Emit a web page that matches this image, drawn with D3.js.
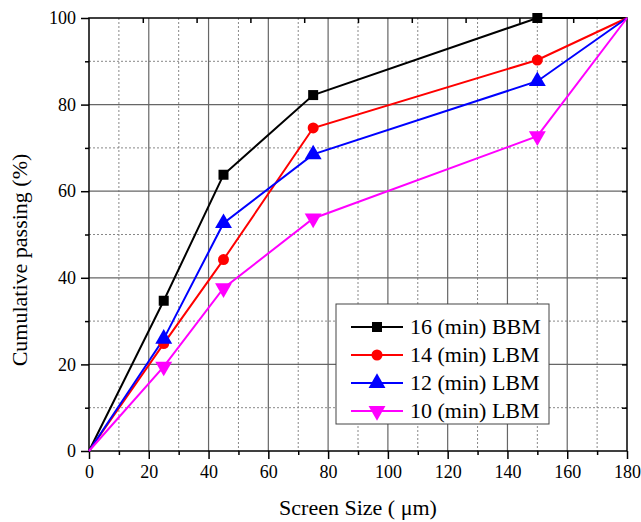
<!DOCTYPE html>
<html><head><meta charset="utf-8">
<script src="https://cdn.jsdelivr.net/npm/d3@7"></script>
</head><body style="margin:0;background:#fff">
<svg id="c" width="641" height="522" font-family="Liberation Serif" style="display:block;font-family:'Liberation Serif'"></svg>
<script>
const sizes = [0, 25, 45, 75, 150, 180];
const bbm16 = [0, 34.7, 63.8, 82.2, 100, 100];
const lbm14 = [0, 24.8, 44.2, 74.6, 90.3, 100];
const lbm12 = [0, 25.9, 52.6, 68.5, 85.4, 100];
const lbm10 = [0, 19.5, 37.6, 53.7, 72.7, 100];
const seriesNames = ["16 (min) BBM", "14 (min) LBM", "12 (min) LBM", "10 (min) LBM"];
const seriesColors = ["#000000", "#ff0000", "#0000ff", "#ff00ff"];
const seriesSymbols = ["square", "circle", "triangle", "triangleDown"];
const xTicks = [0, 20, 40, 60, 80, 100, 120, 140, 160, 180];
const yTicks = [0, 20, 40, 60, 80, 100];
const xTitle = "Screen Size ( μm)";
const yTitle = "Cumulative passing (%)";

const allSeries = [bbm16, lbm14, lbm12, lbm10];
const svg = d3.select("#c");
const L = 89, R = 627, T = 18, B = 451;
const x = d3.scaleLinear().domain([0, 180]).range([L, R]);
const y = d3.scaleLinear().domain([0, 100]).range([B, T]);
const FONT = "Liberation Serif";

// grid
const g = svg.append("g");
d3.range(10, 180, 20).forEach(v => g.append("line").attr("x1", x(v)).attr("x2", x(v)).attr("y1", T).attr("y2", B)
  .attr("stroke", "#888").attr("stroke-width", 1).attr("stroke-dasharray", "2,2"));
d3.range(10, 100, 20).forEach(v => g.append("line").attr("y1", y(v)).attr("y2", y(v)).attr("x1", L).attr("x2", R)
  .attr("stroke", "#888").attr("stroke-width", 1).attr("stroke-dasharray", "2,2"));
xTicks.slice(1, -1).forEach(v => g.append("line").attr("x1", x(v)).attr("x2", x(v)).attr("y1", T).attr("y2", B)
  .attr("stroke", "#666").attr("stroke-width", 1.2));
yTicks.slice(1, -1).forEach(v => g.append("line").attr("y1", y(v)).attr("y2", y(v)).attr("x1", L).attr("x2", R)
  .attr("stroke", "#666").attr("stroke-width", 1.2));

// frame
svg.append("rect").attr("x", L).attr("y", T).attr("width", R - L).attr("height", B - T)
  .attr("fill", "none").attr("stroke", "#000").attr("stroke-width", 1.5);

// axes
const xAx = svg.append("g").attr("transform", `translate(0,${B})`)
  .call(d3.axisBottom(x).tickValues(xTicks).tickSize(8).tickPadding(6).tickFormat(d3.format("d")));
const xMin = svg.append("g").attr("transform", `translate(0,${B})`)
  .call(d3.axisBottom(x).tickValues(d3.range(10, 180, 20)).tickSize(4).tickFormat(""));
const yAx = svg.append("g").attr("transform", `translate(${L},0)`)
  .call(d3.axisLeft(y).tickValues(yTicks).tickSize(8).tickPadding(5).tickFormat(d3.format("d")));
const yMin = svg.append("g").attr("transform", `translate(${L},0)`)
  .call(d3.axisLeft(y).tickValues(d3.range(10, 100, 20)).tickSize(4).tickFormat(""));
const topAx = svg.append("g").attr("transform", `translate(0,${T})`)
  .call(d3.axisTop(x).tickValues(d3.range(18, 180, 18)).tickSize(-5).tickFormat(""));
const rightAx = svg.append("g").attr("transform", `translate(${R},0)`)
  .call(d3.axisRight(y).tickValues(d3.range(10, 100, 10)).tickSize(-5).tickFormat(""));
[xAx, xMin, yAx, yMin, topAx, rightAx].forEach(a => {
  a.attr("font-family", FONT).attr("font-size", 18);
  a.select(".domain").remove();
  a.selectAll("line").attr("stroke", "#000").attr("stroke-width", 1.5);
  a.selectAll("text").attr("font-family", FONT).attr("font-size", 18).attr("fill", "#000");
});

// titles
svg.append("text").attr("x", (L + R) / 2).attr("y", 515).attr("text-anchor", "middle")
  .attr("font-family", FONT).attr("font-size", 22).text(xTitle);
svg.append("text").attr("transform", `translate(27,260) rotate(-90)`).attr("text-anchor", "middle")
  .attr("font-family", FONT).attr("font-size", 22).text(yTitle);

// series
const symMap = {
  square: (s) => d3.symbol().type(d3.symbolSquare).size(s * s)(),
  circle: (s) => d3.symbol().type(d3.symbolCircle).size(Math.PI * (s / 2) * (s / 2))(),
  triangle: (s) => d3.symbol().type(d3.symbolTriangle).size(s * s * 0.55)(),
  triangleDown: (s) => d3.symbol().type(d3.symbolTriangle).size(s * s * 0.55)()
};
const symSize = { square: 10, circle: 11, triangle: 15, triangleDown: 15 };
const line = d3.line().x((d, i) => x(sizes[i])).y(d => y(d));
allSeries.forEach((vals, k) => {
  svg.append("path").datum(vals).attr("d", line).attr("fill", "none")
    .attr("stroke", seriesColors[k]).attr("stroke-width", 2);
});
allSeries.forEach((vals, k) => {
  const sym = seriesSymbols[k];
  vals.forEach((v, i) => {
    if (i === 0 || i === vals.length - 1) return;
    svg.append("path").attr("d", symMap[sym](symSize[sym]))
      .attr("transform", `translate(${x(sizes[i])},${y(v)})${sym === "triangleDown" ? " rotate(180)" : ""}`)
      .attr("fill", seriesColors[k]);
  });
});

// legend
const lg = svg.append("g");
lg.append("rect").attr("x", 336).attr("y", 304).attr("width", 213).attr("height", 120)
  .attr("fill", "#fff").attr("stroke", "#444").attr("stroke-width", 1);
seriesNames.forEach((n, k) => {
  const yy = 327 + k * 28;
  lg.append("line").attr("x1", 351).attr("x2", 403).attr("y1", yy).attr("y2", yy)
    .attr("stroke", seriesColors[k]).attr("stroke-width", 2);
  const sym = seriesSymbols[k];
  lg.append("path").attr("d", symMap[sym](symSize[sym]))
    .attr("transform", `translate(377,${yy})${sym === "triangleDown" ? " rotate(180)" : ""}`)
    .attr("fill", seriesColors[k]);
  lg.append("text").attr("x", 410).attr("y", yy + 7).attr("font-family", FONT).attr("font-size", 22)
    .text(n);
});
</script>
</body></html>
